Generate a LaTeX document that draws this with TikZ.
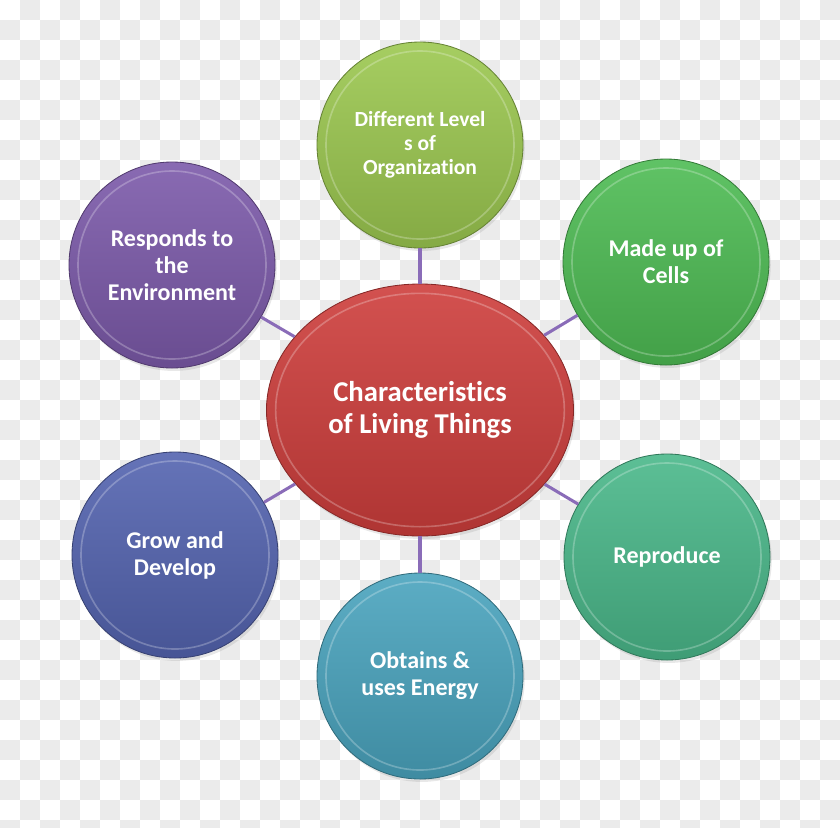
\documentclass[tikz,border=0pt]{standalone}
\usepackage{fontspec}
\setmainfont{Carlito}[Ligatures=CommonOff]
\usetikzlibrary{shapes.geometric, shadows}

\definecolor{tilegray}{RGB}{235,235,235}
\definecolor{linkpurple}{RGB}{138,108,184}
\definecolor{corered}{RGB}{206,62,60}
\definecolor{lvlgreen}{RGB}{156,200,80}
\definecolor{cellgreen}{RGB}{78,188,84}
\definecolor{reproteal}{RGB}{74,184,138}
\definecolor{energyblue}{RGB}{74,164,190}
\definecolor{growblue}{RGB}{84,100,176}
\definecolor{envpurple}{RGB}{124,90,170}

\tikzset{
  tile/.style={fill=tilegray},
  link/.style={draw=linkpurple, line width=2.6pt},
  bubble/.style={circle, minimum size=6.18cm, inner sep=0pt,
    draw=#1!65!black, line width=0.7pt,
    top color=#1!90!white, bottom color=#1!85!black,
    drop shadow={opacity=.18, shadow xshift=1.5pt, shadow yshift=-2.5pt},
    text=white, align=center,
    font=\fontsize{20.5}{23}\selectfont\bfseries,
    path picture={\draw[white, opacity=.25, line width=1.4pt]
      (path picture bounding box.center) circle (2.82cm);}},
  core/.style={ellipse, minimum width=9.21cm, minimum height=7.56cm,
    inner sep=0pt, draw=corered!65!black, line width=0.7pt,
    top color=corered!90!white, bottom color=corered!85!black,
    drop shadow={opacity=.18, shadow xshift=1.5pt, shadow yshift=-2.5pt},
    text=white, align=center,
    font=\fontsize{24.5}{27.5}\selectfont\bfseries,
    path picture={\draw[white, opacity=.25, line width=1.4pt]
      (path picture bounding box.center) ellipse (4.33cm and 3.5cm);}}
}

\begin{document}
\begin{tikzpicture}[x=0.03cm, y=-0.03cm]
\useasboundingbox (0,0) rectangle (840,827);

% checkered backdrop
\foreach \i in {0,...,41}{
  \foreach \j in {0,...,41}{
    \pgfmathtruncatemacro\odd{mod(\i+\j,2)}
    \ifnum\odd=1 \fill[tile] (\i*20,\j*20) rectangle ++(20,20);\fi
  }
}

% hub
\node[core] (core) at (420,410) {Characteristics\\of Living Things};

% outer bubbles
\node[bubble=lvlgreen, font=\fontsize{18.4}{20.5}\selectfont\bfseries]
  (levels) at (420,145) {Different Level\\s of\\Organization};
\node[bubble=cellgreen]  (cells)   at (666,262) {Made up of\\Cells};
\node[bubble=reproteal]  (repro)   at (667,557) {Reproduce};
\node[bubble=energyblue] (energy)  at (420,676) {Obtains \&\\uses Energy};
\node[bubble=growblue]   (grow)    at (175,555) {Grow and\\Develop};
\node[bubble=envpurple]  (env)     at (172,265) {Responds to\\the\\Environment};

% spokes
\foreach \n in {levels, cells, repro, energy, grow, env}
  \draw[link] (core) -- (\n);

\end{tikzpicture}
\end{document}
